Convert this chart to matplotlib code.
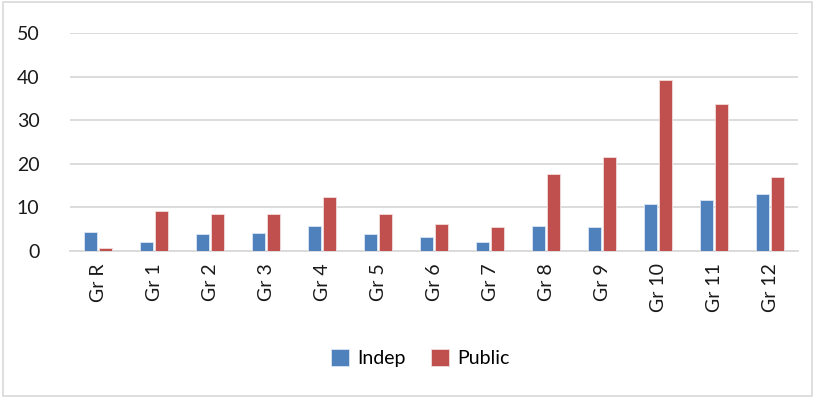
import numpy as np
import matplotlib.pyplot as plt
from matplotlib.patches import Rectangle

grades = ['Gr R', 'Gr 1', 'Gr 2', 'Gr 3', 'Gr 4', 'Gr 5', 'Gr 6',
          'Gr 7', 'Gr 8', 'Gr 9', 'Gr 10', 'Gr 11', 'Gr 12']
indep = [4.3, 2.0, 3.9, 4.1, 5.7, 4.0, 3.2, 2.0, 5.7, 5.5, 10.7, 11.8, 13.0]
public = [0.7, 9.2, 8.6, 8.5, 12.5, 8.4, 6.1, 5.4, 17.7, 21.6, 39.2, 33.7, 16.9]

BLUE = '#4F81BD'
RED = '#C0504D'
GRID = '#D9D9D9'

plt.rcParams['font.family'] = ['Lato', 'DejaVu Sans']

fig = plt.figure(figsize=(8.17, 3.98), dpi=100)
ax = fig.add_axes([70 / 817, 147 / 398, 728 / 817, 218 / 398])

x = np.arange(len(grades))
w = 0.23
ax.bar(x - 0.135, indep, w, color=BLUE, edgecolor='#DCE6F2', linewidth=0.6, label='Indep', zorder=3)
ax.bar(x + 0.135, public, w, color=RED, edgecolor='#F2DCDB', linewidth=0.6, label='Public', zorder=3)

ax.set_xlim(-0.5, len(grades) - 0.5)
ax.set_ylim(0, 50)
ax.set_yticks(range(0, 51, 10))
ax.yaxis.grid(True, color=GRID, linewidth=1.3, zorder=0)
ax.set_xticks(x)
ax.set_xticklabels(grades, rotation=90, fontsize=14, color='#1a1a1a')
ax.tick_params(axis='y', labelsize=14, colors='#1a1a1a', length=0, pad=22)
ax.tick_params(axis='x', length=0, pad=9)
for s in ['top', 'right', 'left']:
    ax.spines[s].set_visible(False)
ax.spines['bottom'].set_color(GRID)
ax.spines['bottom'].set_linewidth(1.3)

fig.legend(loc='center', bbox_to_anchor=(420 / 817, 1 - 358 / 398), ncol=2,
           frameon=False, fontsize=14, handlelength=0.95, handleheight=0.95,
           columnspacing=1.3, handletextpad=0.4)

# light outer border around the chart
fig.patches.append(Rectangle((0.004, 0.005), 0.99, 0.99, transform=fig.transFigure,
                             fill=False, edgecolor=GRID, linewidth=1.2))

fig.savefig('out.png', dpi=100)
